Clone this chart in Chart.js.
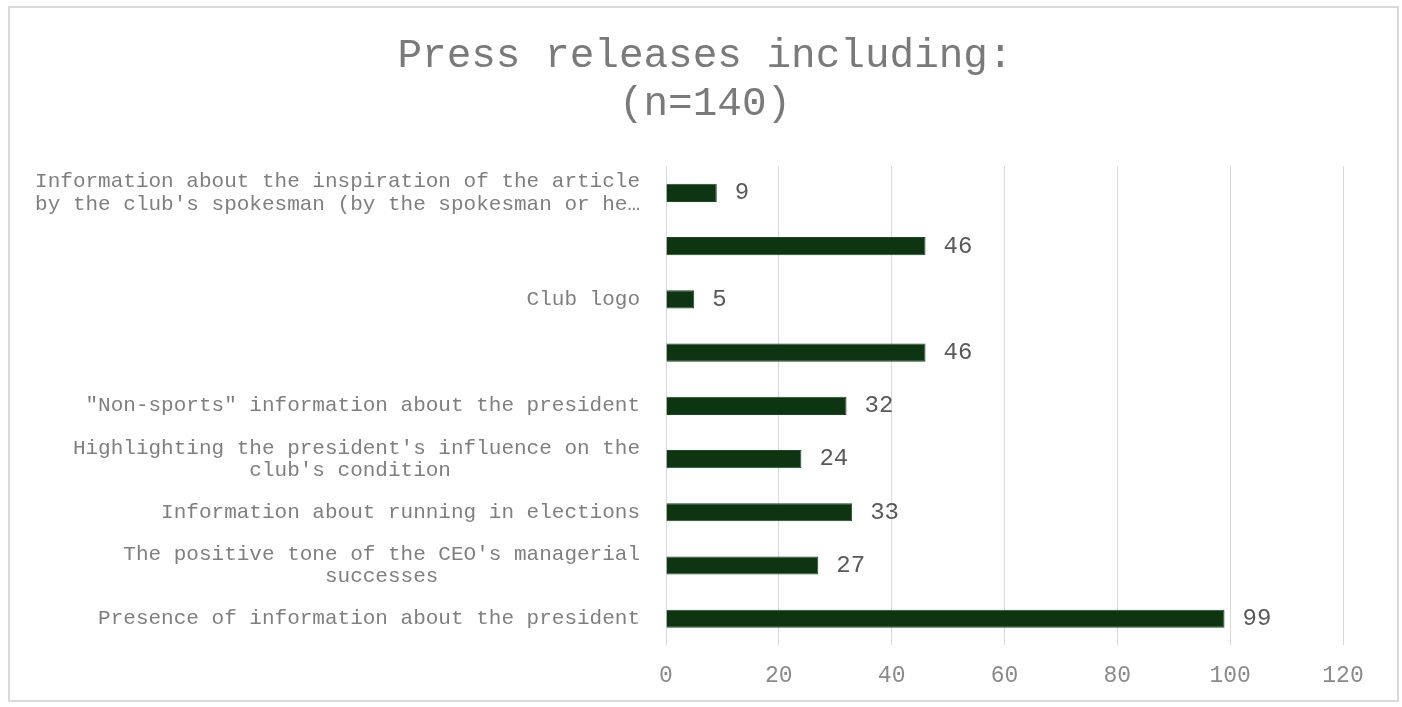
<!DOCTYPE html>
<html>
<head>
<meta charset="utf-8">
<script src="https://cdn.jsdelivr.net/npm/chart.js@4/dist/chart.umd.min.js"></script>
<style>
  html, body { margin: 0; padding: 0; background: #fff; }
  #wrap { position: relative; width: 1402px; height: 707px; }
  #frame {
    position: absolute; left: 8px; top: 6px; width: 1387px; height: 692px;
    border: 2px solid #dadada; pointer-events: none;
  }
</style>
</head>
<body>
<div id="wrap">
  <canvas id="chart" width="1402" height="707"></canvas>
  <div id="frame"></div>
</div>
<script>
// categories, top to bottom (monospace font: trailing spaces centre the 2nd line)
const categories = [
  ["Information about the inspiration of the article",
   "by the club's spokesman (by the spokesman or he…"],
  "",
  "Club logo",
  "",
  "\"Non-sports\" information about the president",
  ["Highlighting the president's influence on the",
   "club's condition" + " ".repeat(15)],
  "Information about running in elections",
  ["The positive tone of the CEO's managerial",
   "successes" + " ".repeat(16)],
  "Presence of information about the president",
];
const counts = [9, 46, 5, 46, 32, 24, 33, 27, 99];
const titleLines = ["Press releases including:", "(n=140)"];
const xTicks = [0, 20, 40, 60, 80, 100, 120];

const mono = "'Courier New', 'Liberation Mono', monospace";

const valueLabels = {
  id: "valueLabels",
  afterDatasetsDraw(chart) {
    const { ctx } = chart;
    const meta = chart.getDatasetMeta(0);
    ctx.save();
    ctx.font = "24px " + mono;
    ctx.fillStyle = "#595959";
    ctx.textAlign = "left";
    ctx.textBaseline = "middle";
    meta.data.forEach((bar, i) => {
      ctx.fillText(String(counts[i]), bar.x + 18, bar.y);
    });
    ctx.restore();
  },
};

// title is centred on the whole picture, not on the padded box
const titleShift = {
  id: "titleShift",
  afterLayout(chart) {
    const t = chart.titleBlock;
    const dx = 705 - (t.left + t.right) / 2;
    t.left += dx;
    t.right += dx;
  },
};

new Chart(document.getElementById("chart"), {
  type: "bar",
  data: {
    labels: categories,
    datasets: [
      {
        data: counts,
        backgroundColor: "#0d3511",
        borderColor: "#1c4a20",
        borderWidth: 1,
        barPercentage: 0.34,
        categoryPercentage: 1,
      },
    ],
  },
  plugins: [valueLabels, titleShift],
  options: {
    indexAxis: "y",
    responsive: false,
    animation: false,
    layout: { padding: { left: 14, right: 59, top: 8, bottom: 0 } },
    plugins: {
      legend: { display: false },
      tooltip: { enabled: false },
      title: {
        display: true,
        text: titleLines,
        color: "#7a7a7a",
        font: { family: mono, size: 41, weight: "normal", lineHeight: 1.15 },
        padding: { top: 25, bottom: 39 },
      },
    },
    scales: {
      x: {
        min: 0,
        max: 120,
        afterBuildTicks: (s) => { s.ticks = xTicks.map((v) => ({ value: v })); },
        grid: { color: "#d9d9d9", drawTicks: false },
        border: { display: false },
        ticks: {
          color: "#8a8a8a",
          padding: 17,
          font: { family: mono, size: 23 },
        },
      },
      y: {
        afterFit: (s) => { s.width = 666 - 14; },
        grid: { display: false },
        border: { display: false },
        ticks: {
          color: "#7f7f7f",
          padding: 18,
          autoSkip: false,
          font: { family: mono, size: 21, lineHeight: 1.05 },
        },
      },
    },
  },
});
</script>
</body>
</html>
